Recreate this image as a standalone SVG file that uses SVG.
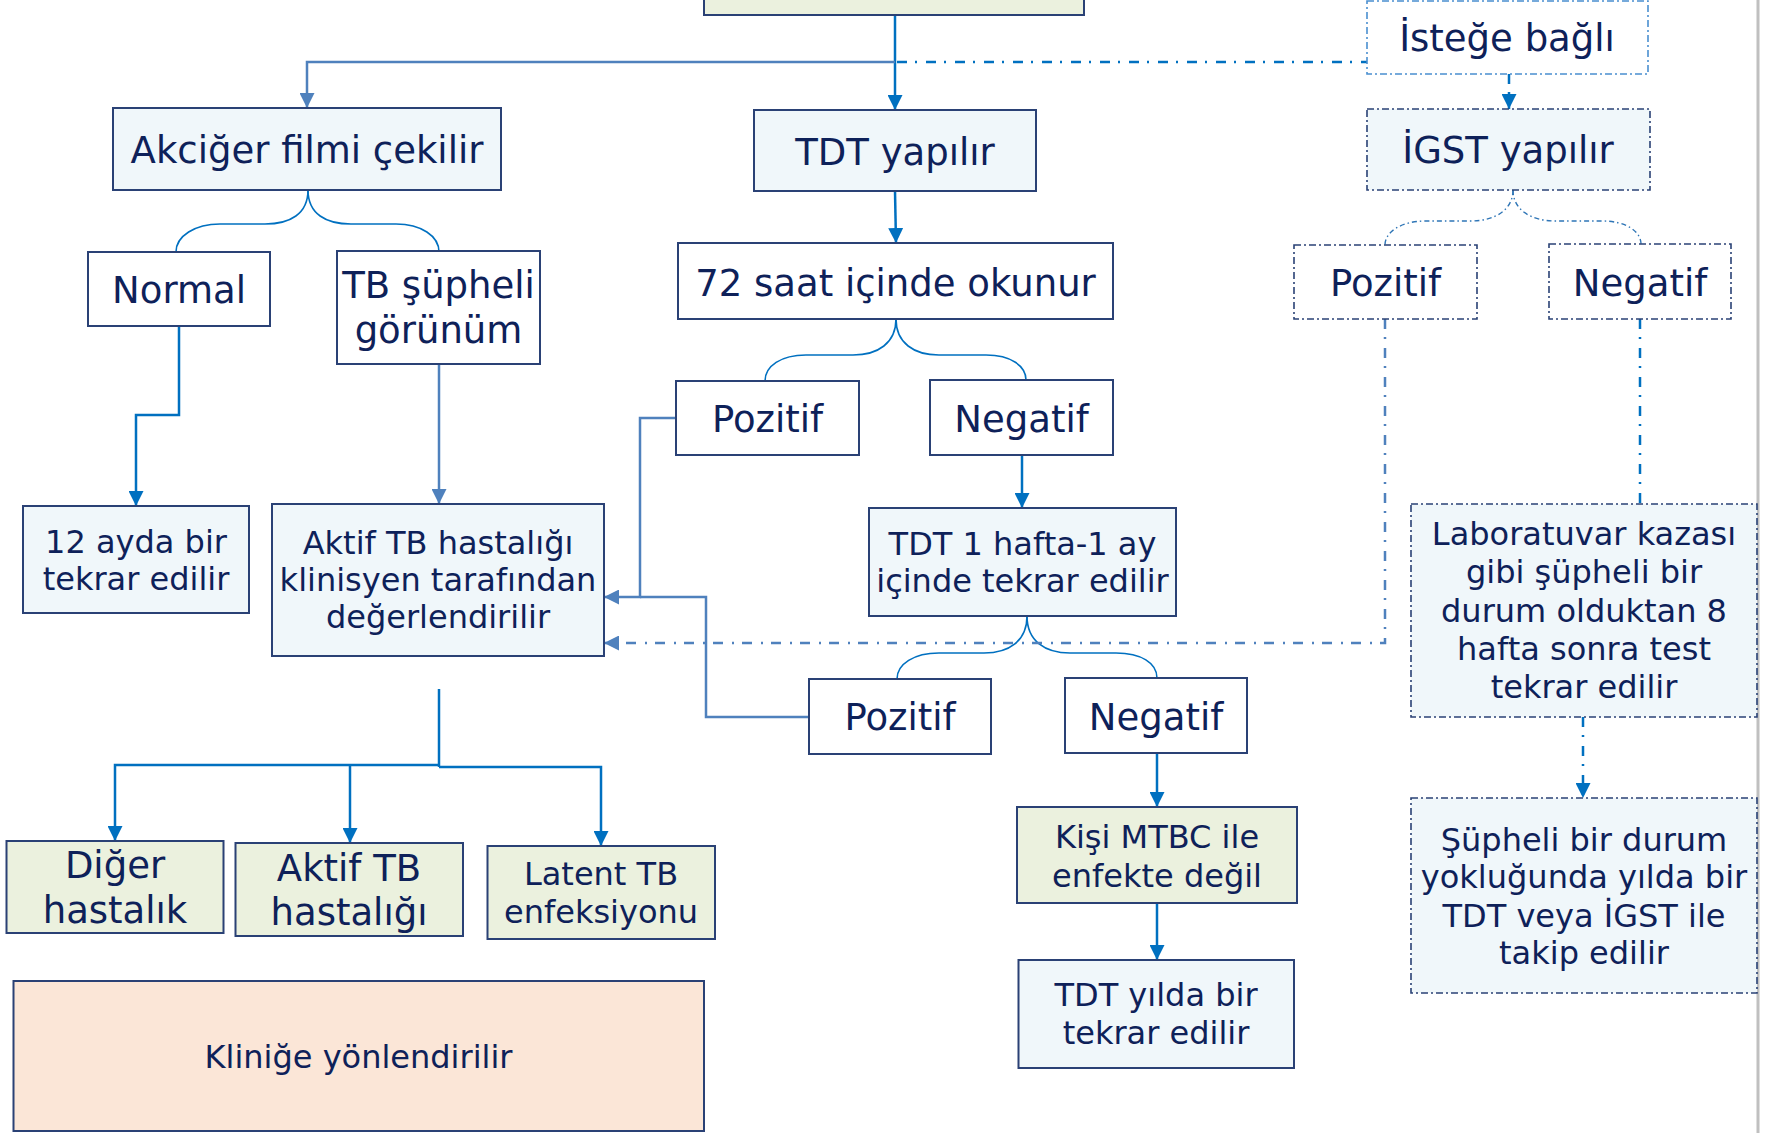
<svg xmlns="http://www.w3.org/2000/svg" width="1768" height="1133" viewBox="0 0 1768 1133">
<style>
  .box{stroke:#2A4175;stroke-width:2}
  .dd{stroke:#2A4175;stroke-width:1.6;stroke-dasharray:7 3 2 3}
  .ddl{stroke:#4A8FD0;stroke-width:1.6;stroke-dasharray:7 3 2 3}
  .w{fill:#FFFFFF}
  .b{fill:#F0F7FA}
  .g{fill:#EBF1DE}
  .p{fill:#FBE6D7}
  text{font-family:"DejaVu Sans",Verdana,sans-serif;fill:#0E2159;text-anchor:middle}
  .L{font-size:37px}
  .M{font-size:32px}
  .c1{fill:none;stroke:#0070C0;stroke-width:2.5}
  .c2{fill:none;stroke:#4F81BD;stroke-width:2.5}
  .cd{fill:none;stroke:#0070C0;stroke-width:2.5;stroke-dasharray:10 8 2 9}
  .cd2{fill:none;stroke:#4F81BD;stroke-width:2.5;stroke-dasharray:10 8 2 9}
  .br{fill:none;stroke:#0070C0;stroke-width:1.6}
  .brd{fill:none;stroke:#2E75B6;stroke-width:1.4;stroke-dasharray:5 3 1.5 3}
</style>
<defs>
  <marker id="a1" viewBox="0 0 10 10" refX="10" refY="5" markerWidth="15" markerHeight="15" markerUnits="userSpaceOnUse" orient="auto">
    <path d="M0,0 L10,5 L0,10 z" fill="#0070C0"/>
  </marker>
  <marker id="a2" viewBox="0 0 10 10" refX="10" refY="5" markerWidth="15" markerHeight="15" markerUnits="userSpaceOnUse" orient="auto">
    <path d="M0,0 L10,5 L0,10 z" fill="#4F81BD"/>
  </marker>
</defs>
<rect x="0" y="0" width="1768" height="1133" fill="#FFFFFF"/>
<line x1="1758" y1="0" x2="1758" y2="1133" stroke="#C0C0C0" stroke-width="3"/>

<g id="connectors">
  <path class="c1" d="M895,15 V110" marker-end="url(#a1)"/>
  <path class="c2" d="M895,62 H307 V108" marker-end="url(#a2)"/>
  <path class="cd" d="M897,62 H1367"/>
  <path class="cd" d="M1509,74 V109" marker-end="url(#a1)"/>
  <path class="c1" d="M895,191 L896,243" marker-end="url(#a1)"/>
  <path class="br" d="M308,190 C308,214 290,224 265,224 L220,224 C195,224 176,236 176,252"/>
  <path class="br" d="M308,190 C308,214 326,224 351,224 L396,224 C421,224 439,236 439,252"/>
  <path class="br" d="M896,319 C896,343 878,355 853,355 L806,355 C781,355 765,366 765,381"/>
  <path class="br" d="M896,319 C896,343 914,355 939,355 L986,355 C1011,355 1026,366 1026,380"/>
  <path class="br" d="M1027,616 C1027,641 1009,653 984,653 L939,653 C914,653 897,664 897,679"/>
  <path class="br" d="M1027,616 C1027,641 1045,653 1070,653 L1116,653 C1141,653 1157,663 1157,678"/>
  <path class="brd" d="M1513,190 C1513,210 1495,221 1470,221 L1426,221 C1401,221 1385,232 1385,245"/>
  <path class="brd" d="M1513,190 C1513,210 1531,221 1556,221 L1602,221 C1627,221 1641,232 1641,244"/>
  <path class="c1" d="M179,326 V415 H136 V506" marker-end="url(#a1)"/>
  <path class="c2" d="M439,364 V504" marker-end="url(#a2)"/>
  <path class="c2" d="M676,418 H640 V597 H604" marker-end="url(#a2)"/>
  <path class="c2" d="M809,717 H706 V597 H640"/>
  <path class="cd2" d="M1385,319 V643 H604" marker-end="url(#a2)"/>
  <path class="cd" d="M1640,319 V504"/>
  <path class="c1" d="M1022,455 V508" marker-end="url(#a1)"/>
  <path class="c1" d="M1157,753 V807" marker-end="url(#a1)"/>
  <path class="c1" d="M1157,903 V960" marker-end="url(#a1)"/>
  <path class="cd" d="M1583,717 V798" marker-end="url(#a1)"/>
  <path class="c1" d="M439,689 V767"/>
  <path class="c1" d="M439,765 H115 V841" marker-end="url(#a1)"/>
  <path class="c1" d="M350,765 V843" marker-end="url(#a1)"/>
  <path class="c1" d="M439,767 H601 V846" marker-end="url(#a1)"/>
</g>

<g id="n-top"><rect class="box g" x="704" y="-10" width="380" height="25"/></g>
<g id="n-akciger"><rect class="box b" x="113" y="108" width="388" height="82"/><text class="L" x="307" y="163">Akciğer filmi çekilir</text></g>
<g id="n-tdt"><rect class="box b" x="754" y="110" width="282" height="81"/><text class="L" x="895" y="165">TDT yapılır</text></g>
<g id="n-istege"><rect class="ddl w" x="1367" y="1" width="281" height="73"/><text class="L" x="1507" y="51">İsteğe bağlı</text></g>
<g id="n-igst"><rect class="dd b" x="1367" y="109" width="283" height="81"/><text class="L" x="1508" y="163">İGST yapılır</text></g>
<g id="n-normal"><rect class="box w" x="88" y="252" width="182" height="74"/><text class="L" x="179" y="303">Normal</text></g>
<g id="n-tbs"><rect class="box w" x="337" y="251" width="203" height="113"/><text class="L" x="438.5" y="298">TB şüpheli</text><text class="L" x="438.5" y="343">görünüm</text></g>
<g id="n-72saat"><rect class="box w" x="678" y="243" width="435" height="76"/><text class="L" x="895.5" y="296">72 saat içinde okunur</text></g>
<g id="n-igpoz"><rect class="dd w" x="1294" y="245" width="183" height="74"/><text class="L" x="1385.5" y="296">Pozitif</text></g>
<g id="n-igneg"><rect class="dd w" x="1549" y="244" width="182" height="75"/><text class="L" x="1640" y="296">Negatif</text></g>
<g id="n-poz1"><rect class="box w" x="676" y="381" width="183" height="74"/><text class="L" x="767.5" y="432">Pozitif</text></g>
<g id="n-neg1"><rect class="box w" x="930" y="380" width="183" height="75"/><text class="L" x="1021.5" y="432">Negatif</text></g>
<g id="n-ayda"><rect class="box b" x="23" y="506" width="226" height="107"/><text class="M" x="136" y="553">12 ayda bir</text><text class="M" x="136" y="590">tekrar edilir</text></g>
<g id="n-aktifk"><rect class="box b" x="272" y="504" width="332" height="152"/><text class="M" x="438" y="554">Aktif TB hastalığı</text><text class="M" x="438" y="591">klinisyen tarafından</text><text class="M" x="438" y="628">değerlendirilir</text></g>
<g id="n-tdt1h"><rect class="box b" x="869" y="508" width="307" height="108"/><text class="M" x="1022.5" y="555">TDT 1 hafta-1 ay</text><text class="M" x="1022.5" y="592">içinde tekrar edilir</text></g>
<g id="n-lab"><rect class="dd b" x="1411" y="504" width="346" height="213"/><text class="M" x="1584" y="545">Laboratuvar kazası</text><text class="M" x="1584" y="583">gibi şüpheli bir</text><text class="M" x="1584" y="622">durum olduktan 8</text><text class="M" x="1584" y="660">hafta sonra test</text><text class="M" x="1584" y="698">tekrar edilir</text></g>
<g id="n-poz2"><rect class="box w" x="809" y="679" width="182" height="75"/><text class="L" x="900" y="730">Pozitif</text></g>
<g id="n-neg2"><rect class="box w" x="1065" y="678" width="182" height="75"/><text class="L" x="1156" y="730">Negatif</text></g>
<g id="n-diger"><rect class="box g" x="6.5" y="841" width="217" height="92"/><text class="L" x="115" y="878">Diğer</text><text class="L" x="115" y="923">hastalık</text></g>
<g id="n-aktif"><rect class="box g" x="235.5" y="843" width="227.5" height="93"/><text class="L" x="349" y="881">Aktif TB</text><text class="L" x="349" y="925">hastalığı</text></g>
<g id="n-latent"><rect class="box g" x="487.5" y="846" width="227.5" height="93"/><text class="M" x="601" y="885">Latent TB</text><text class="M" x="601" y="923">enfeksiyonu</text></g>
<g id="n-klinige"><rect class="box p" x="13.5" y="981" width="690.5" height="150"/><text class="M" x="358.5" y="1068">Kliniğe yönlendirilir</text></g>
<g id="n-kisi"><rect class="box g" x="1017" y="807" width="280" height="96"/><text class="M" x="1157" y="848">Kişi MTBC ile</text><text class="M" x="1157" y="887">enfekte değil</text></g>
<g id="n-tdtyil"><rect class="box b" x="1018.5" y="960" width="275.5" height="108"/><text class="M" x="1156" y="1006">TDT yılda bir</text><text class="M" x="1156" y="1044">tekrar edilir</text></g>
<g id="n-supheli"><rect class="dd b" x="1411" y="798" width="346" height="195"/><text class="M" x="1584" y="851">Şüpheli bir durum</text><text class="M" x="1584" y="888">yokluğunda yılda bir</text><text class="M" x="1584" y="927">TDT veya İGST ile</text><text class="M" x="1584" y="964">takip edilir</text></g>
</svg>
